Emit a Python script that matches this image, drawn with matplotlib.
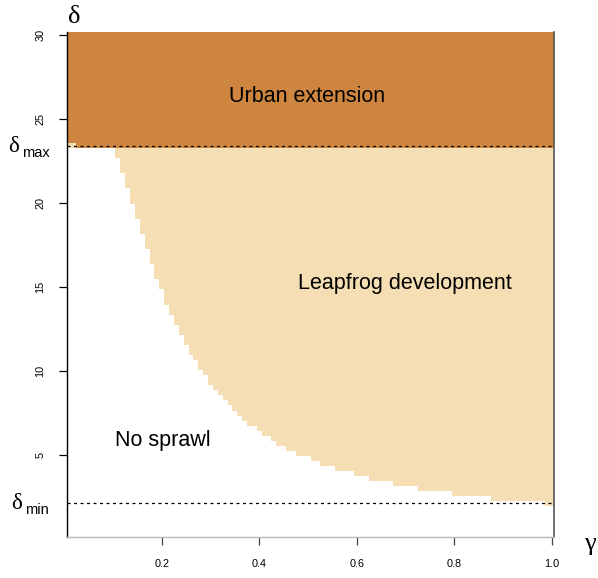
import numpy as np
import matplotlib.pyplot as plt
from matplotlib.colors import ListedColormap

plt.rcParams['font.family'] = ['Liberation Sans', 'DejaVu Sans']

# parameter grid of the simulation
gamma = np.round(np.arange(1, 101) * 0.01, 2)
delta = np.round(np.arange(1, 101) * 0.3, 2)

# lowest delta giving leapfrog development, for gamma = 0.11 ... 1.00
leap_gamma = np.round(np.arange(11, 101) * 0.01, 2)
leap_low = [22.8, 21.9, 21.0, 20.1, 19.2, 18.3, 17.4, 16.5, 15.6, 15.0,
            14.1, 13.5, 12.9, 12.3, 11.7, 11.1, 10.8, 10.2, 9.9, 9.3,
            9.0, 8.7, 8.4, 8.1, 7.8, 7.5, 7.2, 6.9, 6.9, 6.6,
            6.3, 6.3, 6.0, 5.7, 5.7, 5.4, 5.4, 5.1, 5.1, 5.1,
            4.8, 4.8, 4.5, 4.5, 4.5, 4.2, 4.2, 4.2, 4.2, 3.9,
            3.9, 3.9, 3.6, 3.6, 3.6, 3.6, 3.6, 3.3, 3.3, 3.3,
            3.3, 3.3, 3.0, 3.0, 3.0, 3.0, 3.0, 3.0, 3.0, 2.7,
            2.7, 2.7, 2.7, 2.7, 2.7, 2.7, 2.7, 2.4, 2.4, 2.4,
            2.4, 2.4, 2.4, 2.4, 2.4, 2.4, 2.4, 2.4, 2.1, 2.1]

# urban extension starts here (a bit higher for the two first gammas)
urban_low = 23.4
edge_gamma = [0.01, 0.02]
edge_urban_low = 23.7
edge_leap_low = 23.4

delta_max = 23.4
delta_min = 2.15

labels = ['No sprawl', 'Leapfrog development', 'Urban extension']
label_pos = [(0.203, 5.55), (0.699, 14.85), (0.4975, 26.0)]

Z = np.zeros((len(delta), len(gamma)))
for i, g in enumerate(gamma):
    u = edge_urban_low if g in edge_gamma else urban_low
    lo = None
    if g in edge_gamma:
        lo = edge_leap_low
    elif g in leap_gamma:
        lo = leap_low[list(leap_gamma).index(g)]
    if lo is not None:
        Z[(delta >= lo - 1e-6) & (delta < u - 1e-6), i] = 1
    Z[delta >= u - 1e-6, i] = 2

W, H = 598, 578
fig = plt.figure(figsize=(W / 100, H / 100), dpi=100)
ax = fig.add_axes([66.7 / W, 1 - 536.7 / H, (554.3 - 66.7) / W, (536.7 - 32) / H])

cmap = ListedColormap(['white', '#F5DEB3', '#CD853F'])
ax.pcolormesh(gamma, delta, Z, cmap=cmap, vmin=-0.5, vmax=2.5,
              shading='nearest', edgecolors='none', antialiased=False)

ax.axhline(delta_max, color='black', lw=0.9, linestyle=(0, (2.4, 2.8)))
ax.axhline(delta_min, color='black', lw=0.9, linestyle=(0, (2.4, 2.8)))

for txt, (gx, dy) in zip(labels, label_pos):
    ax.text(gx, dy, txt, ha='center', va='baseline', fontsize=15.5)

ax.set_xlim(0.005, 1.005)
ax.set_ylim(0.15, 30.15)
ax.set_xticks([0.2, 0.4, 0.6, 0.8, 1.0])
ax.set_xticklabels(['0.2', '0.4', '0.6', '0.8', '1.0'])
ax.set_yticks([5, 10, 15, 20, 25, 30])
ax.set_yticklabels(['5', '10', '15', '20', '25', '30'])
ax.tick_params(axis='x', length=6, width=0.9, pad=10, labelsize=7.8,
               color='#444444')
ax.tick_params(axis='y', length=6, width=0.9, pad=9.5, labelsize=7.8,
               labelrotation=90)
for lab in ax.get_yticklabels():
    lab.set_va('center')

ax.spines['top'].set_visible(False)
ax.spines['left'].set_color('black')
ax.spines['left'].set_linewidth(1.0)
ax.spines['right'].set_color('#555555')
ax.spines['right'].set_linewidth(1.2)
ax.spines['bottom'].set_color('#b8b8b8')
ax.spines['bottom'].set_linewidth(1.0)


def px(x, y):
    return x / W, 1 - y / H


greek = ['Liberation Serif', 'DejaVu Serif']
fig.text(*px(74, 23), 'δ', family=greek, fontsize=19, ha='center', va='baseline')
fig.text(*px(590, 550), 'γ', family=greek, fontsize=19, ha='center', va='baseline')
fig.text(*px(8, 152), 'δ', family=greek, fontsize=16.5, ha='left', va='baseline')
fig.text(*px(22.5, 157), 'max', fontsize=10.5, ha='left', va='baseline')
fig.text(*px(11, 509), 'δ', family=greek, fontsize=16.5, ha='left', va='baseline')
fig.text(*px(25.5, 514), 'min', fontsize=10.5, ha='left', va='baseline')

fig.savefig('out.png', dpi=100)
